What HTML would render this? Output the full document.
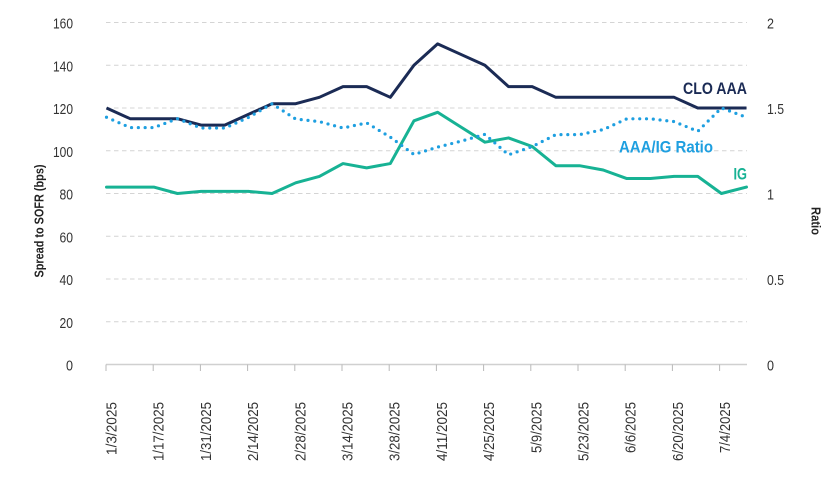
<!DOCTYPE html>
<html>
<head>
<meta charset="utf-8">
<style>
  html,body{margin:0;padding:0;background:#ffffff;}
  svg{display:block;}
  text{font-family:"Liberation Sans",sans-serif;}
</style>
</head>
<body>
<svg width="830" height="480" viewBox="0 0 830 480" xmlns="http://www.w3.org/2000/svg">
  <rect width="830" height="480" fill="#ffffff"/>
  <!-- gridlines -->
  <g stroke="#d4d4d4" stroke-width="1" stroke-dasharray="4.5 3.5">
    <line x1="106" y1="22.5" x2="747" y2="22.5"/>
    <line x1="106" y1="65.25" x2="747" y2="65.25"/>
    <line x1="106" y1="108" x2="747" y2="108"/>
    <line x1="106" y1="150.75" x2="747" y2="150.75"/>
    <line x1="106" y1="193.5" x2="747" y2="193.5"/>
    <line x1="106" y1="236.25" x2="747" y2="236.25"/>
    <line x1="106" y1="279" x2="747" y2="279"/>
    <line x1="106" y1="321.75" x2="747" y2="321.75"/>
  </g>
  <!-- x axis -->
  <line x1="106" y1="364.5" x2="747" y2="364.5" stroke="#d0d0d0" stroke-width="1.6"/>
  <g stroke="#b8b8b8" stroke-width="1">
    <line x1="106" y1="364.5" x2="106" y2="371"/>
    <line x1="153.2" y1="364.5" x2="153.2" y2="371"/>
    <line x1="200.4" y1="364.5" x2="200.4" y2="371"/>
    <line x1="247.6" y1="364.5" x2="247.6" y2="371"/>
    <line x1="294.8" y1="364.5" x2="294.8" y2="371"/>
    <line x1="342" y1="364.5" x2="342" y2="371"/>
    <line x1="389.2" y1="364.5" x2="389.2" y2="371"/>
    <line x1="436.4" y1="364.5" x2="436.4" y2="371"/>
    <line x1="483.6" y1="364.5" x2="483.6" y2="371"/>
    <line x1="530.8" y1="364.5" x2="530.8" y2="371"/>
    <line x1="578" y1="364.5" x2="578" y2="371"/>
    <line x1="625.2" y1="364.5" x2="625.2" y2="371"/>
    <line x1="672.4" y1="364.5" x2="672.4" y2="371"/>
    <line x1="719.6" y1="364.5" x2="719.6" y2="371"/>
  </g>
  <!-- left y labels -->
  <g font-size="14.5" fill="#333333" text-anchor="end">
    <text x="73" y="28.5" textLength="20" lengthAdjust="spacingAndGlyphs">160</text>
    <text x="73" y="71.25" textLength="20" lengthAdjust="spacingAndGlyphs">140</text>
    <text x="73" y="114" textLength="20" lengthAdjust="spacingAndGlyphs">120</text>
    <text x="73" y="156.75" textLength="20" lengthAdjust="spacingAndGlyphs">100</text>
    <text x="73" y="199.5" textLength="13.5" lengthAdjust="spacingAndGlyphs">80</text>
    <text x="73" y="242.25" textLength="13.5" lengthAdjust="spacingAndGlyphs">60</text>
    <text x="73" y="285" textLength="13.5" lengthAdjust="spacingAndGlyphs">40</text>
    <text x="73" y="327.75" textLength="13.5" lengthAdjust="spacingAndGlyphs">20</text>
    <text x="73" y="370.5" textLength="7" lengthAdjust="spacingAndGlyphs">0</text>
  </g>
  <!-- right y labels -->
  <g font-size="14.5" fill="#333333" text-anchor="start">
    <text x="767" y="28.5" textLength="7" lengthAdjust="spacingAndGlyphs">2</text>
    <text x="767" y="114" textLength="17" lengthAdjust="spacingAndGlyphs">1.5</text>
    <text x="767" y="199.5" textLength="7" lengthAdjust="spacingAndGlyphs">1</text>
    <text x="767" y="285" textLength="17" lengthAdjust="spacingAndGlyphs">0.5</text>
    <text x="767" y="370.5" textLength="7" lengthAdjust="spacingAndGlyphs">0</text>
  </g>
  <!-- x labels -->
  <g font-size="15" fill="#333333" text-anchor="end">
    <text transform="translate(116.5,402) rotate(-90)" textLength="53" lengthAdjust="spacingAndGlyphs">1/3/2025</text>
    <text transform="translate(163.7,402) rotate(-90)" textLength="59" lengthAdjust="spacingAndGlyphs">1/17/2025</text>
    <text transform="translate(210.9,402) rotate(-90)" textLength="59" lengthAdjust="spacingAndGlyphs">1/31/2025</text>
    <text transform="translate(258.1,402) rotate(-90)" textLength="59" lengthAdjust="spacingAndGlyphs">2/14/2025</text>
    <text transform="translate(305.3,402) rotate(-90)" textLength="59" lengthAdjust="spacingAndGlyphs">2/28/2025</text>
    <text transform="translate(352.5,402) rotate(-90)" textLength="59" lengthAdjust="spacingAndGlyphs">3/14/2025</text>
    <text transform="translate(399.7,402) rotate(-90)" textLength="59" lengthAdjust="spacingAndGlyphs">3/28/2025</text>
    <text transform="translate(446.9,402) rotate(-90)" textLength="59" lengthAdjust="spacingAndGlyphs">4/11/2025</text>
    <text transform="translate(494.1,402) rotate(-90)" textLength="59" lengthAdjust="spacingAndGlyphs">4/25/2025</text>
    <text transform="translate(541.3,402) rotate(-90)" textLength="51" lengthAdjust="spacingAndGlyphs">5/9/2025</text>
    <text transform="translate(588.5,402) rotate(-90)" textLength="59" lengthAdjust="spacingAndGlyphs">5/23/2025</text>
    <text transform="translate(635.7,402) rotate(-90)" textLength="51" lengthAdjust="spacingAndGlyphs">6/6/2025</text>
    <text transform="translate(682.9,402) rotate(-90)" textLength="59" lengthAdjust="spacingAndGlyphs">6/20/2025</text>
    <text transform="translate(730.1,402) rotate(-90)" textLength="51" lengthAdjust="spacingAndGlyphs">7/4/2025</text>
  </g>
  <!-- axis titles -->
  <text transform="translate(43.5,221) rotate(-90)" font-size="12.5" font-weight="bold" fill="#222222" text-anchor="middle" textLength="113" lengthAdjust="spacingAndGlyphs">Spread to SOFR (bps)</text>
  <text transform="translate(811.5,221) rotate(90)" font-size="12.5" font-weight="bold" fill="#222222" text-anchor="middle" textLength="28" lengthAdjust="spacingAndGlyphs">Ratio</text>

  <!-- IG series -->
  <polyline fill="none" stroke="#17b294" stroke-width="3" stroke-linejoin="round" stroke-linecap="round"
    points="106.5,187.09 130.15,187.09 153.8,187.09 177.45,193.5 201.1,191.36 224.75,191.36 248.4,191.36 272.05,193.5 295.7,182.81 319.35,176.4 343,163.58 366.65,167.85 390.3,163.58 413.95,120.83 437.6,112.28 461.25,127.24 484.9,142.2 508.55,137.93 532.2,146.48 555.85,165.71 579.5,165.71 603.15,169.99 626.8,178.54 650.45,178.54 674.1,176.4 697.75,176.4 721.4,193.5 746.5,187.09"/>
  <!-- CLO AAA series -->
  <polyline fill="none" stroke="#1b2b55" stroke-width="3" stroke-linejoin="round" stroke-linecap="butt"
    points="106.5,108 130.15,118.69 153.8,118.69 177.45,118.69 201.1,125.1 224.75,125.1 248.4,114.41 272.05,103.73 295.7,103.73 319.35,97.31 343,86.63 366.65,86.63 390.3,97.31 413.95,65.25 437.6,43.88 461.25,54.56 484.9,65.25 508.55,86.63 532.2,86.63 555.85,97.31 579.5,97.31 603.15,97.31 626.8,97.31 650.45,97.31 674.1,97.31 697.75,108 721.4,108 746.5,108"/>
  <!-- Ratio series (dotted) -->
  <polyline fill="none" stroke="#1e9fe0" stroke-width="3.2" stroke-linejoin="round" stroke-linecap="round" stroke-dasharray="0 6.8"
    points="106.5,117.28 130.15,127.58 153.8,127.58 177.45,118.69 201.1,128.05 224.75,128.05 248.4,117.49 272.05,103.73 295.7,119.07 319.35,121.6 343,128.01 366.65,122.88 390.3,137.11 413.95,154.49 437.6,147.14 461.25,141.13 484.9,134.32 508.55,154.79 532.2,146.57 555.85,134.66 579.5,134.66 603.15,129.61 626.8,118.81 650.45,118.81 674.1,121.6 697.75,131.32 721.4,108 746.5,117.28"/>

  <!-- series labels -->
  <text x="747" y="94" font-size="17" font-weight="bold" fill="#1b2b55" text-anchor="end" textLength="64" lengthAdjust="spacingAndGlyphs">CLO AAA</text>
  <text x="619" y="152.3" font-size="17" font-weight="bold" fill="#1e9fe0" text-anchor="start" textLength="94" lengthAdjust="spacingAndGlyphs">AAA/IG Ratio</text>
  <text x="747" y="179.3" font-size="17" font-weight="bold" fill="#17b294" text-anchor="end" textLength="13.5" lengthAdjust="spacingAndGlyphs">IG</text>
</svg>
</body>
</html>
